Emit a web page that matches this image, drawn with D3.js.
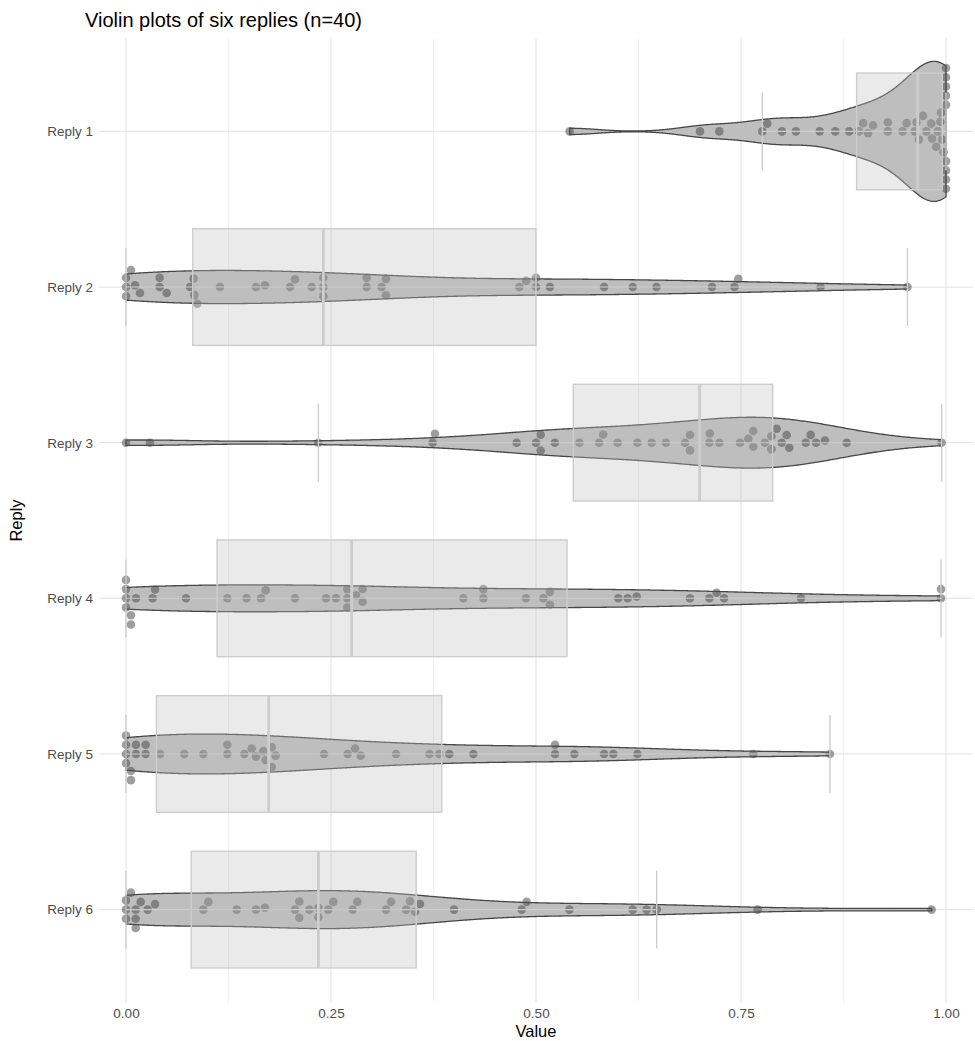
<!DOCTYPE html>
<html>
<head>
<meta charset="utf-8">
<script src="https://cdn.jsdelivr.net/npm/d3@7"></script>
<style>
  body { margin: 0; background: #fff; }
  text { font-family: "Liberation Sans", Arial, sans-serif; }
</style>
</head>
<body>
<svg id="chart" width="975" height="1041"></svg>
<script>
// Categories and the 40 answers per reply
const replies = ["Reply 1", "Reply 2", "Reply 3", "Reply 4", "Reply 5", "Reply 6"];

const reply1 = [0.541, 0.700, 0.7235, 0.776, 0.782, 0.800, 0.817, 0.846, 0.865, 0.882,
  0.894, 0.899, 0.905, 0.911, 0.929, 0.929, 0.947, 0.952, 0.962, 0.964,
  0.967, 0.972, 0.976, 0.982, 0.983, 0.988, 0.990, 0.993, 0.994, 0.995,
  0.997, 1, 1, 1, 1, 1, 1, 1, 1, 1];

const reply2 = [0, 0, 0, 0.006, 0.011, 0.017, 0.041, 0.041, 0.0496, 0.078,
  0.0825, 0.0834, 0.087, 0.1146, 0.1585, 0.1695, 0.200, 0.206, 0.2264, 0.2407,
  0.2407, 0.2407, 0.2935, 0.2935, 0.3118, 0.317, 0.317, 0.4797, 0.488, 0.500,
  0.500, 0.517, 0.583, 0.618, 0.647, 0.7146, 0.742, 0.7467, 0.847, 0.953];

const reply3 = [0, 0.0293, 0.2346, 0.374, 0.3768, 0.4764, 0.500, 0.5057, 0.5057, 0.523,
  0.553, 0.577, 0.582, 0.5996, 0.6236, 0.641, 0.6585, 0.6817, 0.6878, 0.6878,
  0.7114, 0.712, 0.7236, 0.7488, 0.759, 0.765, 0.765, 0.779, 0.787, 0.787,
  0.7935, 0.7996, 0.8057, 0.8089, 0.829, 0.835, 0.8415, 0.8524, 0.8789, 0.9947];

const reply4 = [0, 0, 0, 0, 0.006, 0.006, 0.0122, 0.0325, 0.0354, 0.0732,
  0.1236, 0.147, 0.1646, 0.1703, 0.2061, 0.2439, 0.2561, 0.2699, 0.2699, 0.2699,
  0.2805, 0.2886, 0.2886, 0.4114, 0.4358, 0.4358, 0.4878, 0.509, 0.517, 0.517,
  0.6004, 0.6118, 0.6228, 0.6878, 0.7114, 0.7203, 0.7293, 0.8232, 0.9939, 0.9939];

const reply5 = [0, 0, 0, 0, 0.006, 0.006, 0.0122, 0.0122, 0.024, 0.024,
  0.0415, 0.0711, 0.0943, 0.1236, 0.1236, 0.1443, 0.1533, 0.1585, 0.1675, 0.1703,
  0.1777, 0.1777, 0.1825, 0.2415, 0.2703, 0.2793, 0.2862, 0.3293, 0.370, 0.382,
  0.3943, 0.4236, 0.5232, 0.5232, 0.5467, 0.583, 0.5943, 0.6236, 0.765, 0.8585];

const reply6 = [0, 0, 0, 0.006, 0.0118, 0.0118, 0.0118, 0.0179, 0.0264, 0.0354,
  0.0943, 0.1004, 0.135, 0.1585, 0.1695, 0.2061, 0.2114, 0.2114, 0.2236, 0.2346,
  0.2346, 0.2467, 0.2528, 0.2764, 0.2821, 0.3171, 0.3232, 0.3415, 0.3463, 0.3524,
  0.3585, 0.400, 0.4825, 0.4886, 0.5407, 0.6179, 0.635, 0.6472, 0.7703, 0.9825];

const seriesValues = [reply1, reply2, reply3, reply4, reply5, reply6];

const xTicks = [0, 0.25, 0.5, 0.75, 1];
const xMinorTicks = [0.125, 0.375, 0.625, 0.875];

const titleText = "Violin plots of six replies (n=40)";
const xTitle = "Value";
const yTitle = "Reply";

// ---- layout ----
const panel = { left: 99, right: 973, top: 38, bottom: 1003 };
const svg = d3.select("#chart");

const x = d3.scaleLinear().domain([0, 1]).range([126, 946]);
const y = d3.scalePoint().domain(replies).range([panel.top, panel.bottom]).padding(0.6);
const step = y.step();

// ---- statistics ----
function bwNrd0(v) {
  const s = d3.deviation(v);
  const iqr = d3.quantile(v, 0.75) - d3.quantile(v, 0.25);
  let lo = Math.min(s, iqr / 1.34);
  if (!lo) lo = s || Math.abs(v[0]) || 1;
  return 0.9 * lo * Math.pow(v.length, -0.2);
}

function kde(v, bw, n = 512) {
  const [a, b] = d3.extent(v);
  const norm = v.length * bw * Math.sqrt(2 * Math.PI);
  return d3.range(n).map(i => {
    const t = a + (b - a) * i / (n - 1);
    let s = 0;
    for (const xi of v) { const z = (t - xi) / bw; s += Math.exp(-0.5 * z * z); }
    return [t, s / norm];
  });
}

function boxStats(v) {
  const s = v.slice().sort(d3.ascending);
  const q1 = d3.quantile(s, 0.25), med = d3.quantile(s, 0.5), q3 = d3.quantile(s, 0.75);
  const iqr = q3 - q1;
  const lo = d3.min(s.filter(d => d >= q1 - 1.5 * iqr));
  const hi = d3.max(s.filter(d => d <= q3 + 1.5 * iqr));
  return { q1, med, q3, lo, hi };
}

// beeswarm placement: points in ascending order, each nudged to the nearest free offset
function swarm(vals, d) {
  const pts = vals.map(v => ({ v, px: x(v) })).sort((a, b) => a.px - b.px);
  const placed = [];
  for (const p of pts) {
    const near = placed.filter(q => Math.abs(q.px - p.px) < d);
    const cands = [0];
    for (const q of near) {
      const dy = Math.sqrt(d * d - (q.px - p.px) ** 2);
      cands.push(q.dy - dy, q.dy + dy);
    }
    cands.sort((a, b) => (Math.abs(a) - Math.abs(b)) || (a - b));
    for (const c of cands) {
      if (near.every(q => (q.px - p.px) ** 2 + (q.dy - c) ** 2 >= d * d - 0.01)) { p.dy = c; break; }
    }
    placed.push(p);
  }
  return placed;
}

const groups = replies.map((name, i) => {
  const vals = seriesValues[i];
  const dens = kde(vals, bwNrd0(vals));
  return { name, vals, dens, box: boxStats(vals) };
});

const maxDensity = d3.max(groups, g => d3.max(g.dens, d => d[1]));
const halfWidth = d3.scaleLinear().domain([0, maxDensity]).range([0, step * 0.45]);

// ---- grid ----
const grid = svg.append("g");
grid.selectAll("line.minor").data(xMinorTicks).join("line")
  .attr("x1", d => x(d)).attr("x2", d => x(d))
  .attr("y1", panel.top).attr("y2", panel.bottom)
  .attr("stroke", "#ebebeb").attr("stroke-width", 0.7);
grid.selectAll("line.major").data(xTicks).join("line")
  .attr("x1", d => x(d)).attr("x2", d => x(d))
  .attr("y1", panel.top).attr("y2", panel.bottom)
  .attr("stroke", "#e6e6e6").attr("stroke-width", 1.2);
grid.selectAll("line.cat").data(replies).join("line")
  .attr("x1", panel.left).attr("x2", panel.right)
  .attr("y1", d => y(d)).attr("y2", d => y(d))
  .attr("stroke", "#e6e6e6").attr("stroke-width", 1.2);

// ---- violins ----
const violinArea = d3.area()
  .x(d => x(d[0]))
  .y0(d => d.cy - halfWidth(d[1]))
  .y1(d => d.cy + halfWidth(d[1]));

const gViolin = svg.append("g");
groups.forEach(g => {
  const cy = y(g.name);
  const pts = g.dens.map(d => { const p = [d[0], d[1]]; p.cy = cy; return p; });
  gViolin.append("path")
    .attr("d", violinArea(pts) + "Z")
    .attr("fill", "#bebebe")
    .attr("stroke", "#474747")
    .attr("stroke-width", 1.3)
    .attr("stroke-linejoin", "round");
});

// ---- points ----
const gPts = svg.append("g");
groups.forEach(g => {
  const cy = y(g.name);
  gPts.selectAll(null).data(swarm(g.vals, 9.2)).join("circle")
    .attr("cx", d => d.px)
    .attr("cy", d => cy + d.dy)
    .attr("r", 4.3)
    .attr("fill", "#4f4f4f")
    .attr("fill-opacity", 0.55);
});

// ---- boxplots with error-bar whiskers ----
const gBox = svg.append("g");
const boxLine = "#cdcdcd";
groups.forEach(g => {
  const cy = y(g.name), b = g.box;
  const capH = step * 0.25, boxH = step * 0.375;
  gBox.append("line")
    .attr("x1", x(b.lo)).attr("x2", x(b.hi)).attr("y1", cy).attr("y2", cy)
    .attr("stroke", boxLine).attr("stroke-width", 1.1);
  [b.lo, b.hi].forEach(v => gBox.append("line")
    .attr("x1", x(v)).attr("x2", x(v)).attr("y1", cy - capH).attr("y2", cy + capH)
    .attr("stroke", boxLine).attr("stroke-width", 1.4));
  gBox.append("rect")
    .attr("x", x(b.q1)).attr("width", x(b.q3) - x(b.q1))
    .attr("y", cy - boxH).attr("height", 2 * boxH)
    .attr("fill", "#bebebe").attr("fill-opacity", 0.33)
    .attr("stroke", boxLine).attr("stroke-width", 1.4);
  gBox.append("line")
    .attr("x1", x(b.med)).attr("x2", x(b.med)).attr("y1", cy - boxH).attr("y2", cy + boxH)
    .attr("stroke", boxLine).attr("stroke-width", 2.8);
});

// ---- axes ----
const xAxis = svg.append("g")
  .attr("transform", `translate(0,${panel.bottom})`)
  .call(d3.axisBottom(x).tickValues(xTicks).tickFormat(d3.format(".2f")).tickSize(0).tickPadding(5));
const yAxis = svg.append("g")
  .attr("transform", `translate(${panel.left},0)`)
  .call(d3.axisLeft(y).tickSize(0).tickPadding(6));
[xAxis, yAxis].forEach(a => {
  a.select(".domain").remove();
  a.selectAll("text").attr("fill", "#4d4d4d").style("font-size", "13.5px")
    .style("font-family", "'Liberation Sans', Arial, sans-serif");
});

svg.append("text")
  .attr("x", x(0.5)).attr("y", 1037)
  .attr("text-anchor", "middle").attr("fill", "#000").style("font-size", "16.5px")
  .text(xTitle);

svg.append("text")
  .attr("transform", `translate(22,${(panel.top + panel.bottom) / 2}) rotate(-90)`)
  .attr("text-anchor", "middle").attr("fill", "#000").style("font-size", "16.5px")
  .text(yTitle);

svg.append("text")
  .attr("x", 85).attr("y", 27)
  .attr("fill", "#000").style("font-size", "20px")
  .text(titleText);
</script>
</body>
</html>
